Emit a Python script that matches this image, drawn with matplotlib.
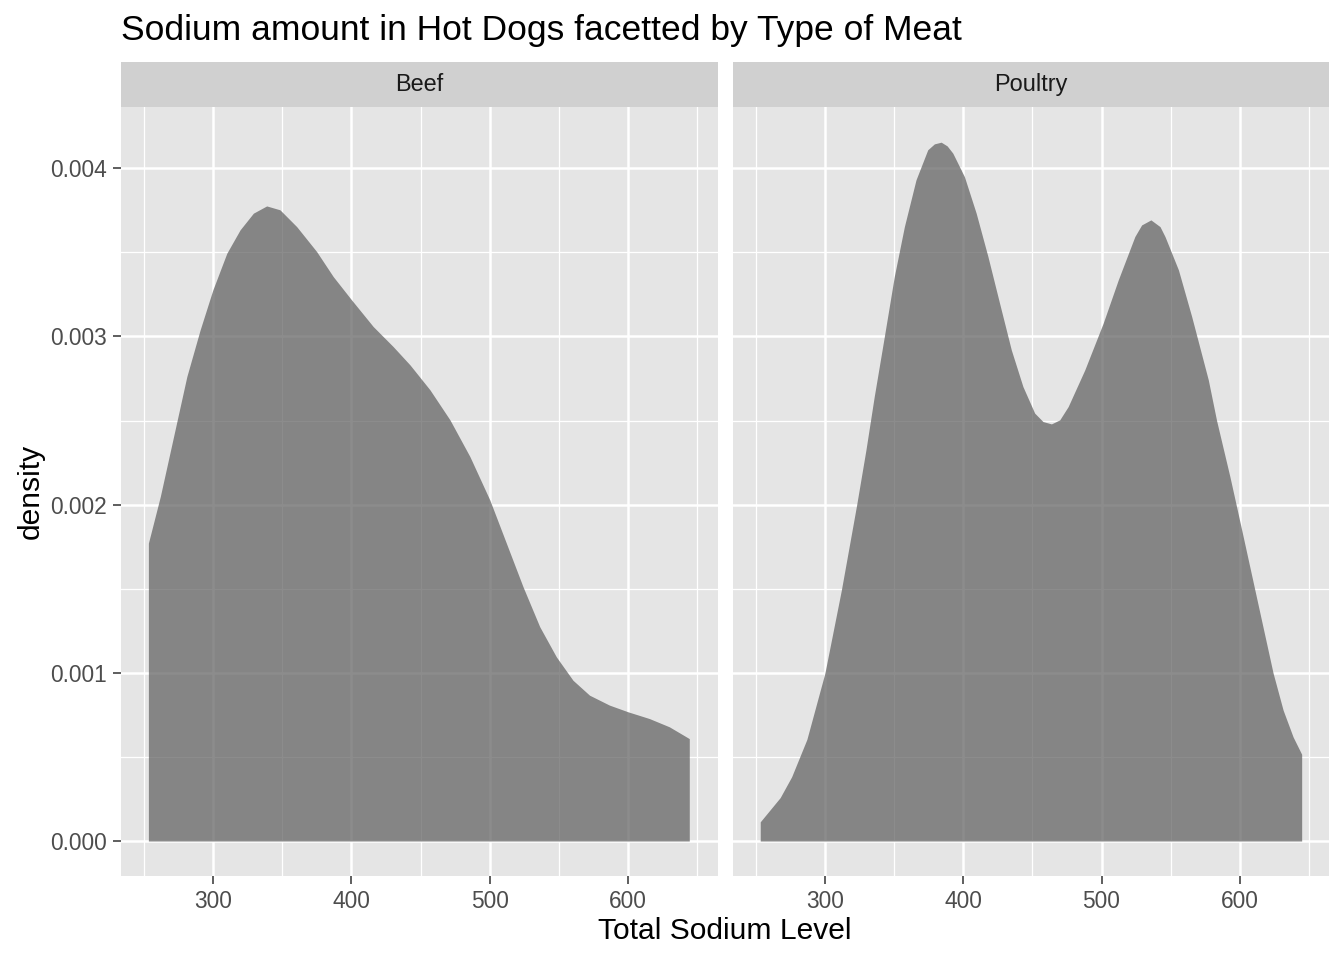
import matplotlib.pyplot as plt

plt.rcParams['font.family'] = ['Liberation Sans', 'DejaVu Sans']

# density curves (sodium level, density)
beef_x = [253.2, 261.8, 271.4, 281.0, 290.6, 299.8, 309.9, 319.5, 329.1, 338.7, 348.3,
          360.4, 374.8, 386.8, 400.1, 415.7, 430.1, 442.3, 456.7, 471.2, 485.6, 500.0,
          512.0, 524.0, 536.1, 548.1, 560.1, 572.1, 586.5, 600.0, 615.4, 629.8, 644.2]
beef_y = [0.001771, 0.002048, 0.002405, 0.002762, 0.003039, 0.003277, 0.003495, 0.003634,
          0.003733, 0.003776, 0.003753, 0.003653, 0.003505, 0.003356, 0.003217, 0.003059,
          0.00294, 0.002831, 0.002683, 0.002504, 0.002286, 0.002028, 0.00177, 0.001512,
          0.001274, 0.001095, 0.000956, 0.000867, 0.000808, 0.000768, 0.000728, 0.000679,
          0.000609]

poultry_x = [253.3, 267.7, 276.0, 287.0, 300.0, 311.9, 322.9, 329.7, 335.7, 343.0, 350.2,
             357.5, 365.9, 374.4, 379.2, 384.1, 388.4, 392.5, 400.9, 409.4, 417.9, 426.3,
             434.8, 443.2, 451.7, 457.7, 463.8, 469.8, 475.9, 487.9, 501.2, 512.1, 524.1,
             529.0, 535.7, 542.3, 545.9, 555.6, 565.2, 577.2, 583.2, 592.8, 600.0, 609.6,
             616.8, 624.0, 631.3, 638.5, 644.7]
poultry_y = [0.000114, 0.000258, 0.000382, 0.000604, 0.000997, 0.00149, 0.001994, 0.002325,
             0.002642, 0.002999, 0.003356, 0.003653, 0.003931, 0.00411, 0.004145, 0.004155,
             0.004133, 0.00409, 0.00395, 0.003733, 0.003475, 0.003198, 0.00292, 0.002702,
             0.002544, 0.002494, 0.00248, 0.002504, 0.002583, 0.002801, 0.003079, 0.003336,
             0.003594, 0.003663, 0.003693, 0.003653, 0.003594, 0.003396, 0.003118, 0.002742,
             0.0025, 0.002167, 0.0019, 0.00154, 0.00127, 0.001, 0.000778, 0.000619,
             0.000516]

panels = [("Beef", beef_x, beef_y), ("Poultry", poultry_x, poultry_y)]
x_ticks = [300, 400, 500, 600]
x_minor = [250, 350, 450, 550, 650]
y_ticks = [0.000, 0.001, 0.002, 0.003, 0.004]
y_minor = [0.0005, 0.0015, 0.0025, 0.0035]

W, H = 1344, 960
fig = plt.figure(figsize=(6.72, 4.8), dpi=200)

lefts = [121, 732.7]
pw = 596.5
ptop, pbot = 106.7, 876
strip_top = 62

for i, (name, xs, ys) in enumerate(panels):
    ax = fig.add_axes([lefts[i] / W, 1 - pbot / H, pw / W, (pbot - ptop) / H])
    ax.set_facecolor('#E5E5E5')
    for s in ax.spines.values():
        s.set_visible(False)
    ax.set_xlim(233.4, 664.6)
    ax.set_ylim(-0.000208, 0.004366)
    for v in x_minor:
        ax.axvline(v, color='white', lw=0.45, zorder=1)
    for v in y_minor:
        ax.axhline(v, color='white', lw=0.45, zorder=1)
    for v in x_ticks:
        ax.axvline(v, color='white', lw=0.9, zorder=1)
    for v in y_ticks:
        ax.axhline(v, color='white', lw=0.9, zorder=1)
    ax.fill_between(xs, 0, ys, color='#5C5C5C', alpha=0.7, lw=0, zorder=2)

    ax.set_xticks(x_ticks)
    ax.set_xticklabels([str(t) for t in x_ticks])
    ax.set_yticks(y_ticks)
    if i == 0:
        ax.set_yticklabels([f"{t:.3f}" for t in y_ticks])
        ax.tick_params(axis='y', length=2.75, width=0.55, color='#333333',
                       labelsize=8.2, labelcolor='#4D4D4D', pad=2.2)
    else:
        ax.tick_params(axis='y', left=False, labelleft=False)
    ax.tick_params(axis='x', length=2.75, width=0.55, color='#333333',
                   labelsize=8.2, labelcolor='#4D4D4D', pad=2.2)

    # facet strip
    sax = fig.add_axes([lefts[i] / W, 1 - ptop / H, pw / W, (ptop - strip_top) / H])
    sax.set_facecolor('#D0D0D0')
    sax.set_xticks([])
    sax.set_yticks([])
    for s in sax.spines.values():
        s.set_visible(False)
    sax.text(0.5, 0.5, name, ha='center', va='center', fontsize=8.45,
             color='#1A1A1A', transform=sax.transAxes)

fig.text(121 / W, 1 - 40 / H, "Sodium amount in Hot Dogs facetted by Type of Meat",
         fontsize=12.75, color='black', ha='left', va='baseline')
fig.text((121 + 1329.2) / 2 / W, 1 - 939 / H, "Total Sodium Level",
         fontsize=10.8, color='black', ha='center', va='baseline')
fig.text(31 / W, 1 - (ptop + pbot) / 2 / H, "density", fontsize=10.8, color='black',
         rotation=90, ha='center', va='center')

fig.savefig("out.png", dpi=200, facecolor='white')
